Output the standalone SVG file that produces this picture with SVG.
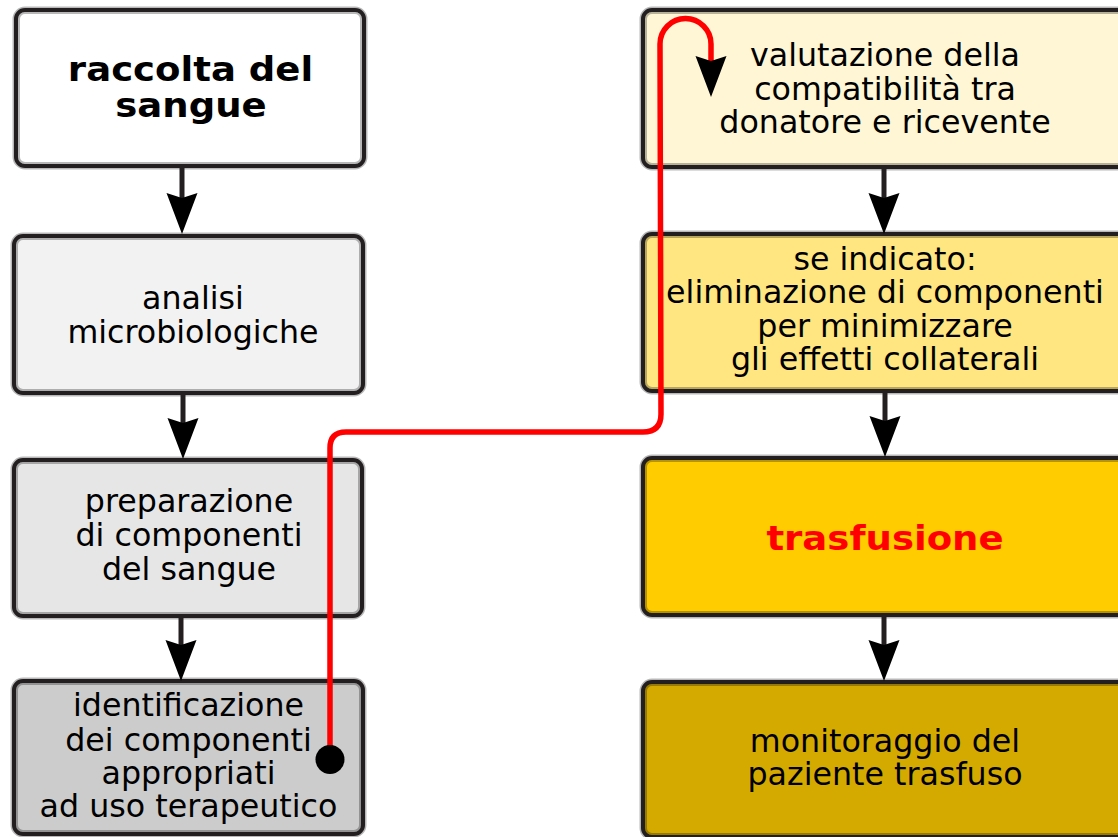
<svg xmlns="http://www.w3.org/2000/svg" width="1118" height="837" viewBox="0 0 1118 837">
<style>
.halo{fill:none;stroke:#000;stroke-opacity:.28;stroke-width:7}
.frame{stroke:#231f20;stroke-width:4}
.inner{fill:none;stroke:#000;stroke-opacity:.28;stroke-width:2}
text{font-family:"DejaVu Sans","Bitstream Vera Sans",sans-serif;font-size:31.7px;text-anchor:middle;fill:#000}
.b{font-weight:bold;font-size:34px}
.conn{fill:none;stroke:#231f20;stroke-width:5}
.red{fill:none;stroke:#ff0000;stroke-width:5.5;stroke-linejoin:round}
</style>
<defs>
<marker id="ah" markerUnits="userSpaceOnUse" markerWidth="44" markerHeight="34" viewBox="0 -17 44 34" refX="6" refY="0" orient="auto">
<path d="M0,-15.5 L41,0 L0,15.5 L5,0 Z" fill="#000"/>
</marker>
</defs>
<rect width="1118" height="837" fill="#fff"/>

<g id="n1">
<rect class="halo" x="16" y="10" width="348" height="156" rx="9"/>
<rect class="frame" x="16" y="10" width="348" height="156" rx="9" fill="#fff"/>
<rect class="inner" x="19" y="13" width="342" height="150" rx="6"/>
<text class="b" transform="translate(190.5,0) scale(1.09,1)" x="0" y="81">raccolta del</text>
<text class="b" transform="translate(191,0) scale(1.09,1)" x="0" y="117">sangue</text>
</g>

<g id="n2">
<rect class="halo" x="14" y="236" width="349" height="157" rx="9"/>
<rect class="frame" x="14" y="236" width="349" height="157" rx="9" fill="#f2f2f2"/>
<rect class="inner" x="17" y="239" width="343" height="151" rx="6"/>
<text x="193" y="309">analisi</text>
<text x="193" y="343">microbiologiche</text>
</g>

<g id="n3">
<rect class="halo" x="14" y="460" width="348" height="156" rx="9"/>
<rect class="frame" x="14" y="460" width="348" height="156" rx="9" fill="#e6e6e6"/>
<rect class="inner" x="17" y="463" width="342" height="150" rx="6"/>
<text x="189" y="512">preparazione</text>
<text x="189" y="546">di componenti</text>
<text x="189" y="580">del sangue</text>
</g>

<g id="n4">
<rect class="halo" x="14" y="681" width="349" height="153" rx="9"/>
<rect class="frame" x="14" y="681" width="349" height="153" rx="9" fill="#cccccc"/>
<rect class="inner" x="17" y="684" width="343" height="147" rx="6"/>
<text x="188.5" y="716">identificazione</text>
<text x="188.5" y="751">dei componenti</text>
<text x="188.5" y="784">appropriati</text>
<text x="188.5" y="817">ad uso terapeutico</text>
</g>

<g id="n5">
<rect class="halo" x="643" y="10" width="500" height="157" rx="9"/>
<rect class="frame" x="643" y="10" width="500" height="157" rx="9" fill="#fff6d5"/>
<rect class="inner" x="646" y="13" width="494" height="151" rx="6"/>
<text x="885" y="66">valutazione della</text>
<text x="885" y="100">compatibilità tra</text>
<text x="885" y="133">donatore e ricevente</text>
</g>

<g id="n6">
<rect class="halo" x="643" y="234" width="500" height="157" rx="9"/>
<rect class="frame" x="643" y="234" width="500" height="157" rx="9" fill="#ffe680"/>
<rect class="inner" x="646" y="237" width="494" height="151" rx="6"/>
<text x="885" y="270">se indicato:</text>
<text x="885" y="303">eliminazione di componenti</text>
<text x="885" y="337">per minimizzare</text>
<text x="885" y="370">gli effetti collaterali</text>
</g>

<g id="n7">
<rect class="halo" x="643" y="458" width="500" height="157" rx="9"/>
<rect class="frame" x="643" y="458" width="500" height="157" rx="9" fill="#ffcc00"/>
<rect class="inner" x="646" y="461" width="494" height="151" rx="6"/>
<text class="b" transform="translate(885,0) scale(1.09,1)" x="0" y="550" style="fill:#ff0000">trasfusione</text>
</g>

<g id="n8">
<rect class="halo" x="643" y="682" width="500" height="155" rx="9"/>
<rect class="frame" x="643" y="682" width="500" height="155" rx="9" fill="#d4aa00"/>
<rect class="inner" x="646" y="685" width="494" height="149" rx="6"/>
<text x="885" y="752">monitoraggio del</text>
<text x="885" y="785">paziente trasfuso</text>
</g>

<g id="connectors">
<path class="conn" d="M182,168 V199" marker-end="url(#ah)"/>
<path class="conn" d="M183,395 V424" marker-end="url(#ah)"/>
<path class="conn" d="M181,618 V646" marker-end="url(#ah)"/>
<path class="conn" d="M884,169 V199" marker-end="url(#ah)"/>
<path class="conn" d="M885,393 V422" marker-end="url(#ah)"/>
<path class="conn" d="M884,617 V646" marker-end="url(#ah)"/>
<path class="red" d="M330,760 V448 Q330,432 346,432 H643 Q661,432 661,414 L660,44 A25.5,25.5 0 0 1 711,44 V62" marker-end="url(#ah)"/>
<circle cx="330" cy="759.5" r="14.5" fill="#000"/>
</g>
</svg>
